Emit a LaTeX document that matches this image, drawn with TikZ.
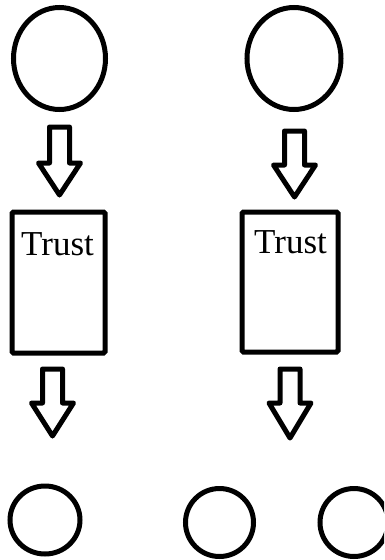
\documentclass[tikz,border=0pt]{standalone}
\usepackage{fontspec}
\setmainfont{Liberation Serif}
\usetikzlibrary{shapes.geometric}
\begin{document}
\begin{tikzpicture}[x=1pt,y=-1pt,
  outline/.style={draw=black,line width=5pt},
  ring/.style={outline,ellipse,inner sep=0pt},
  box/.style={outline,rectangle,rounded corners=1.5pt,inner sep=0pt},
  lbl/.style={anchor=base west,inner sep=0pt,font=\fontsize{35}{37}\selectfont},
  pics/blockarrow/.style n args={3}{code={
    % #1 = shaft top, #2 = shoulder, #3 = tip (relative y)
    \draw[outline,line join=round]
      (-10,0) -- (10,0) -- (10,#2) -- (21,#2) -- (0,#3) -- (-21,#2) -- (-10,#2) -- cycle;
  }}]
\useasboundingbox (0,0) rectangle (384,560);
\clip (0,0) rectangle (384,560);
% top circles
\node[ring,minimum width=92pt,minimum height=102pt] (c1) at (59.5,58.5) {};
\node[ring,minimum width=94pt,minimum height=102pt] (c2) at (294,58.5) {};
% boxes
\node[box,minimum width=93pt,minimum height=141pt] (b1) at (58.5,282.5) {};
\node[box,minimum width=96pt,minimum height=140pt] (b2) at (290,282) {};
\node[lbl] (t1) at (21,255) {Trust};
\node[lbl] (t2) at (254,253) {Trust};
% block arrows
\pic (a1) at (59.5,127) {blockarrow={0}{36}{68}};
\pic (a2) at (294.5,131) {blockarrow={0}{34}{66}};
\pic (a3) at (52.5,369) {blockarrow={0}{34}{67}};
\pic (a4) at (290,369) {blockarrow={0}{34}{69}};
% bottom circles
\node[ring,minimum width=70pt,minimum height=68pt] (c3) at (45,520) {};
\node[ring,minimum width=68pt,minimum height=68pt] (c4) at (219.5,522.5) {};
\node[ring,minimum width=68pt,minimum height=68pt] (c5) at (354,522.5) {};
\end{tikzpicture}
\end{document}
